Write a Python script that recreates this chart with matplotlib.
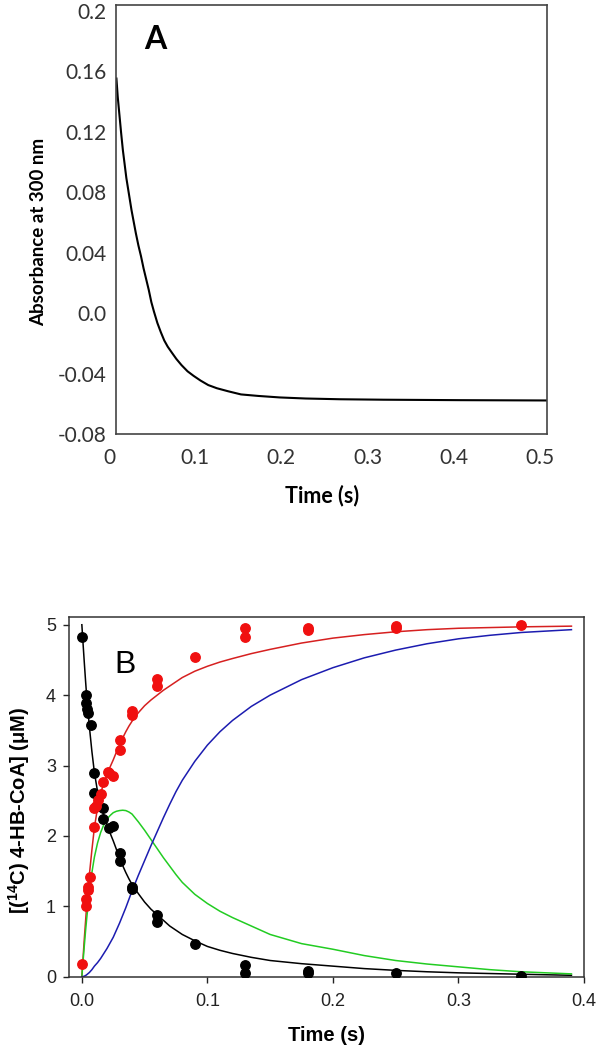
import matplotlib
matplotlib.use("Agg")
import matplotlib.pyplot as plt
import matplotlib.transforms as mtransforms

# ---------------- Panel A data ----------------
a_time = [0.0005, 0.002, 0.004, 0.006, 0.008, 0.010, 0.012, 0.014, 0.016, 0.018,
          0.020, 0.023, 0.026, 0.029, 0.032, 0.035, 0.038, 0.041, 0.044, 0.048,
          0.052, 0.056, 0.060, 0.065, 0.070, 0.076, 0.083, 0.090, 0.098, 0.107,
          0.117, 0.130, 0.145, 0.165, 0.190, 0.220, 0.260, 0.310, 0.400, 0.500]
a_abs = [0.1553, 0.1433, 0.1311, 0.1190, 0.1078, 0.0987, 0.0895, 0.0824, 0.0753, 0.0682,
         0.0621, 0.0530, 0.0448, 0.0377, 0.0296, 0.0225, 0.0154, 0.0073, 0.0011, -0.0065,
         -0.0126, -0.0181, -0.0222, -0.0263, -0.0303, -0.0344, -0.0385, -0.0415, -0.0446, -0.0476,
         -0.0497, -0.0517, -0.0538, -0.0548, -0.0558, -0.0565, -0.0570, -0.0573, -0.0576, -0.0578]
a_xticks = [0, 0.1, 0.2, 0.3, 0.4, 0.5]
a_xticklabels = ["0", "0.1", "0.2", "0.3", "0.4", "0.5"]
a_yticks = [-0.08, -0.04, 0.0, 0.04, 0.08, 0.12, 0.16, 0.2]
a_yticklabels = ["-0.08", "-0.04", "0.0", "0.04", "0.08", "0.12", "0.16", "0.2"]

# ---------------- Panel B data ----------------
sub_t = [0.0, 0.003, 0.003, 0.004, 0.005, 0.0075, 0.010, 0.010, 0.017, 0.017,
         0.022, 0.025, 0.030, 0.030, 0.040, 0.040, 0.060, 0.060, 0.090,
         0.130, 0.130, 0.180, 0.180, 0.250, 0.350]
sub_c = [4.82, 4.00, 3.89, 3.80, 3.74, 3.58, 2.89, 2.61, 2.39, 2.24,
         2.11, 2.14, 1.76, 1.64, 1.27, 1.25, 0.88, 0.78, 0.47,
         0.17, 0.05, 0.08, 0.05, 0.05, 0.01]

prod_t = [0.0, 0.003, 0.003, 0.0045, 0.005, 0.0068, 0.0098, 0.0098, 0.0114,
          0.013, 0.015, 0.017, 0.021, 0.022, 0.025, 0.030, 0.030, 0.040, 0.040,
          0.060, 0.060, 0.090, 0.130, 0.130, 0.180, 0.180, 0.250, 0.250, 0.350]
prod_c = [0.18, 1.00, 1.11, 1.23, 1.28, 1.42, 2.12, 2.39, 2.42,
          2.51, 2.60, 2.77, 2.91, 2.89, 2.85, 3.36, 3.22, 3.77, 3.72,
          4.23, 4.13, 4.54, 4.95, 4.82, 4.95, 4.92, 4.98, 4.95, 4.99]

fit_t = [0.0, 0.001, 0.002, 0.003, 0.004, 0.006, 0.008, 0.010, 0.0125, 0.015,
         0.0175, 0.020, 0.0225, 0.025, 0.0275, 0.030, 0.0325, 0.035, 0.0375, 0.040,
         0.045, 0.050, 0.055, 0.060, 0.065, 0.070, 0.075, 0.080, 0.090, 0.100,
         0.110, 0.120, 0.135, 0.150, 0.175, 0.200, 0.225, 0.250, 0.275, 0.300,
         0.325, 0.350, 0.390]
fit_black = [5.00, 4.72, 4.45, 4.19, 3.95, 3.55, 3.20, 2.90, 2.63, 2.45,
             2.29, 2.16, 2.04, 1.93, 1.81, 1.69, 1.58, 1.48, 1.39, 1.31,
             1.18, 1.06, 0.96, 0.88, 0.80, 0.72, 0.66, 0.60, 0.51, 0.43,
             0.375, 0.33, 0.275, 0.23, 0.185, 0.15, 0.115, 0.09, 0.07, 0.055,
             0.045, 0.035, 0.02]
fit_red = [0.00, 0.28, 0.55, 0.80, 1.05, 1.45, 1.80, 2.12, 2.40, 2.61,
           2.75, 2.87, 2.98, 3.08, 3.19, 3.29, 3.39, 3.48, 3.56, 3.63,
           3.75, 3.85, 3.93, 4.00, 4.07, 4.13, 4.19, 4.25, 4.34, 4.41,
           4.47, 4.52, 4.59, 4.65, 4.74, 4.81, 4.86, 4.90, 4.93, 4.95,
           4.96, 4.97, 4.98]
fit_green = [0.00, 0.23, 0.45, 0.66, 0.85, 1.20, 1.48, 1.70, 1.90, 2.05,
             2.16, 2.24, 2.29, 2.33, 2.35, 2.36, 2.365, 2.36, 2.34, 2.31,
             2.20, 2.08, 1.95, 1.82, 1.69, 1.57, 1.45, 1.34, 1.17, 1.04,
             0.93, 0.84, 0.72, 0.60, 0.47, 0.39, 0.30, 0.23, 0.18, 0.14,
             0.10, 0.07, 0.04]
fit_blue = [0.00, 0.002, 0.008, 0.017, 0.03, 0.06, 0.10, 0.15, 0.20, 0.26,
            0.33, 0.40, 0.48, 0.56, 0.66, 0.76, 0.87, 0.98, 1.10, 1.22,
            1.44, 1.65, 1.86, 2.06, 2.26, 2.45, 2.63, 2.79, 3.06, 3.29,
            3.48, 3.64, 3.84, 4.00, 4.22, 4.39, 4.53, 4.64, 4.73, 4.80,
            4.85, 4.89, 4.93]
b_xticks = [0.0, 0.1, 0.2, 0.3, 0.4]
b_xticklabels = ["0.0", "0.1", "0.2", "0.3", "0.4"]
b_yticks = [0, 1, 2, 3, 4, 5]

plt.rcParams['mathtext.fontset'] = 'custom'
plt.rcParams['mathtext.rm'] = 'Liberation Sans'
plt.rcParams['mathtext.bf'] = 'Liberation Sans:bold'

fig = plt.figure(figsize=(6.0, 10.49), dpi=100)

# ---------------- Panel A ----------------
axA = fig.add_axes([116/600, 1-434/1049, (547-116)/600, (434-5)/1049])
axA.plot(a_time, a_abs, color='black', lw=1.5)
axA.set_xlim(0, 0.5)
axA.set_ylim(-0.08, 0.204)
axA.set_xticks(a_xticks)
axA.set_xticklabels(a_xticklabels)
axA.set_yticks(a_yticks)
axA.set_yticklabels(a_yticklabels)
axA.tick_params(length=0, labelsize=15, colors='#333333')
axA.tick_params(axis='y', pad=7)
axA.tick_params(axis='x', pad=10)
shift = mtransforms.ScaledTranslation(-7/100, 0, fig.dpi_scale_trans)
for lab in axA.get_xticklabels():
    lab.set_family('Lato')
    lab.set_transform(lab.get_transform() + shift)
for lab in axA.get_yticklabels():
    lab.set_family('Lato')
for s in axA.spines.values():
    s.set_color('#444444')
    s.set_linewidth(1.2)
axA.set_xlabel('Time (s)', family='Lato', fontweight='bold', fontsize=15.5)
axA.xaxis.set_label_coords((322-116)/431, -0.118)
axA.set_ylabel('Absorbance at 300 nm', family='Lato', fontweight='bold', fontsize=13.5)
axA.yaxis.set_label_coords(-0.16, (434-232)/429)
axA.text(0.046, 0.181, 'A', family='Lato', fontweight='bold', fontsize=23,
         ha='center', va='center')

# ---------------- Panel B ----------------
axB = fig.add_axes([69.3/600, 1-976.7/1049, (584-69.3)/600, (976.7-617)/1049])
axB.plot(fit_t, fit_black, color='black', lw=1.1, zorder=2)
axB.plot(fit_t, fit_red, color='#d62020', lw=1.1, zorder=2)
axB.plot(fit_t, fit_green, color='#22cc22', lw=1.1, zorder=2)
axB.plot(fit_t, fit_blue, color='#1c1cb0', lw=1.1, zorder=2)
axB.plot(sub_t, sub_c, 'o', color='black', ms=6.8, zorder=3)
axB.plot(prod_t, prod_c, 'o', color='#f01010', ms=6.8, zorder=3)
axB.set_xlim(-0.01, 0.4)
axB.set_ylim(0, 5.11)
axB.set_xticks(b_xticks)
axB.set_xticklabels(b_xticklabels)
axB.set_yticks(b_yticks)
axB.tick_params(direction='out', length=4.5, width=1.0, labelsize=13, colors='#222222')
axB.tick_params(axis='x', pad=7)
axB.tick_params(axis='y', pad=5)
for lab in axB.get_xticklabels() + axB.get_yticklabels():
    lab.set_family('Liberation Sans')
for s in axB.spines.values():
    s.set_color('#333333')
    s.set_linewidth(1.1)
axB.set_xlabel('Time (s)', family='Liberation Sans', fontweight='bold', fontsize=14.5, labelpad=12)
axB.set_ylabel('[($\\mathbf{^{14}}$C) 4-HB-CoA] (\u03bcM)', family='Liberation Sans',
               fontweight='bold', fontsize=14.5, labelpad=8)
axB.yaxis.set_label_coords(-0.072, 0.463)
axB.text(0.0345, 4.43, 'B', family='Liberation Sans', fontsize=23,
         ha='center', va='center')

fig.savefig('out.png', dpi=100)
